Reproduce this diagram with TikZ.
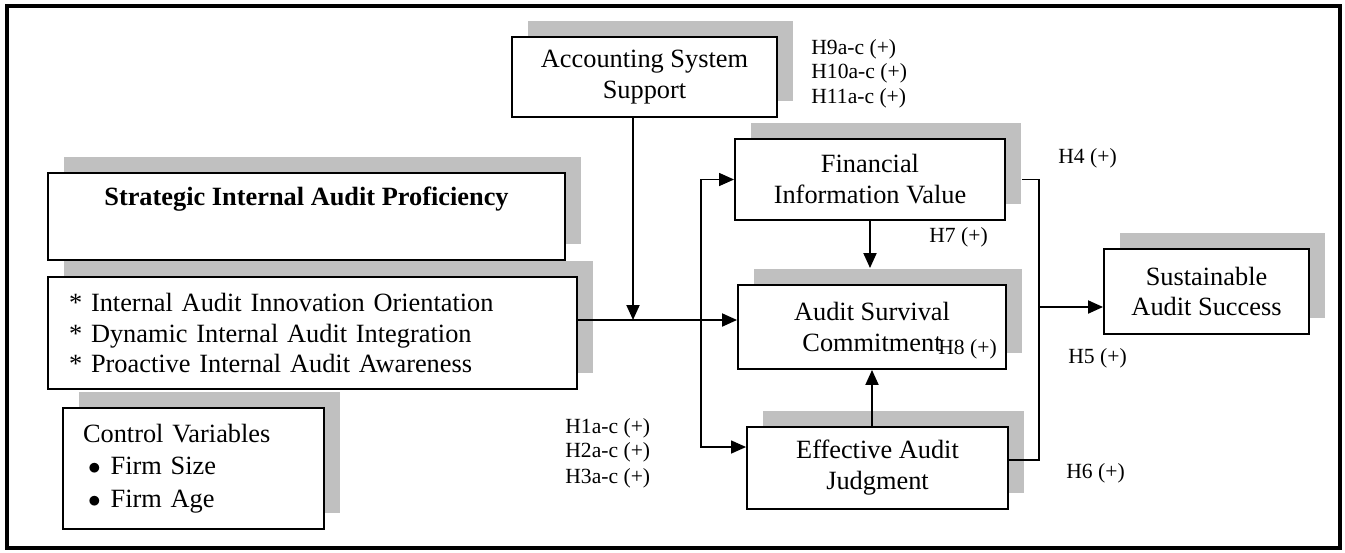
\documentclass[tikz,border=0pt]{standalone}
\usepackage{fontspec}
\setmainfont{Liberation Serif}
\usetikzlibrary{arrows.meta,shadows}

\definecolor{shadowgray}{RGB}{192,192,192}
\newcommand{\mainsize}{\fontsize{15}{17.6}\selectfont}
\newcommand{\hypsize}{\fontsize{12.3}{14}\selectfont}

\tikzset{
	varbox/.style={draw, fill=white, line width=1.1pt, align=center, font=\mainsize,
		general shadow={fill=shadowgray, shadow xshift=0.32cm, shadow yshift=0.32cm}},
	hyplabel/.style={anchor=west, inner sep=0pt, font=\hypsize},
	mainlink/.style={line width=1.1pt},
	sidelink/.style={line width=0.8pt},
}

\begin{document}
\begin{tikzpicture}[x=0.02cm, y=-0.02cm, >={Triangle[length=0.3cm,width=0.26cm]}]
		\useasboundingbox (0,0) rectangle (1345,552);
		\draw[line width=2.3pt] (7,6) rectangle (1340,548);
		
		% constructs
		\node[varbox, minimum width=5.3cm, minimum height=1.6cm] (acct) at (644.5,77) {Accounting System\\Support};
		\node[varbox, minimum width=10.34cm, minimum height=1.74cm] (siap) at (306.5,216.5) {\textbf{Strategic Internal Audit Proficiency}\\\strut};
		\node[varbox, align=left, text width=9.74cm, inner xsep=0.42cm, minimum height=2.24cm] (items) at (312.5,333) {* Internal Audit Innovation Orientation\\{}* Dynamic Internal Audit Integration\\{}* Proactive Internal Audit Awareness};
		\node[varbox, align=left, text width=4.42cm, inner xsep=0.4cm, minimum height=2.42cm, font=\fontsize{15}{18.4}\selectfont] (ctrl) at (193.5,468.5) {Control Variables\\\hspace{0.1cm}$\bullet$\hspace{0.2cm}Firm Size\\\hspace{0.1cm}$\bullet$\hspace{0.2cm}Firm Age};
		\node[varbox, minimum width=5.4cm, minimum height=1.62cm] (fin) at (870,179.5) {Financial\\Information Value};
		\node[varbox, minimum width=5.36cm, minimum height=1.68cm] (surv) at (872,327) {Audit Survival\\Commitment};
		\node[varbox, minimum width=5.22cm, minimum height=1.64cm] (eff) at (877.5,468) {Effective Audit\\Judgment};
		\node[varbox, minimum width=4.1cm, minimum height=1.7cm] (sust) at (1206.5,291.5) {Sustainable\\Audit Success};
		
		% hypotheses
		\node[hyplabel] (h9) at (811,49) {H9a-c (+)};
		\node[hyplabel] (h10) at (811,73) {H10a-c (+)};
		\node[hyplabel] (h11) at (811,98) {H11a-c (+)};
		\node[hyplabel] (h4) at (1058,158) {H4 (+)};
		\node[hyplabel] (h7) at (929,237) {H7 (+)};
		\node[hyplabel] (h8) at (938,349) {H8 (+)};
		\node[hyplabel] (h5) at (1068,358) {H5 (+)};
		\node[hyplabel] (h6) at (1066,473) {H6 (+)};
		\node[hyplabel] (h1) at (565,428) {H1a-c (+)};
		\node[hyplabel] (h2) at (565,452) {H2a-c (+)};
		\node[hyplabel] (h3) at (565,478) {H3a-c (+)};
		
		\coordinate (modpt) at (633,320);
		\coordinate (fork) at (701,320);
		\coordinate (join) at (1039,307);
		\coordinate (survtop) at ([yshift=0.32cm]surv.north);
		
		% links
		\draw[->,mainlink] (items.east |- modpt) -- (surv.west |- modpt);
		\draw[->,mainlink] (acct.south -| modpt) -- (modpt);
		\draw[->,sidelink] (fork) |- (fin.west);
		\draw[->,sidelink] (fork) |- ([yshift=0.42cm]eff.west);
		\draw[->,mainlink] (fin.south) -- (fin.south |- survtop);
		\draw[->,mainlink] (eff.north -| surv.south) -- (surv.south);
		\draw[sidelink] ([xshift=0.32cm]fin.east) -| (join);
		\draw[sidelink] ([yshift=0.16cm]eff.east) -| (join);
		\draw[->,mainlink] (join) -- (sust.west |- join);
		\end{tikzpicture}
\end{document}
